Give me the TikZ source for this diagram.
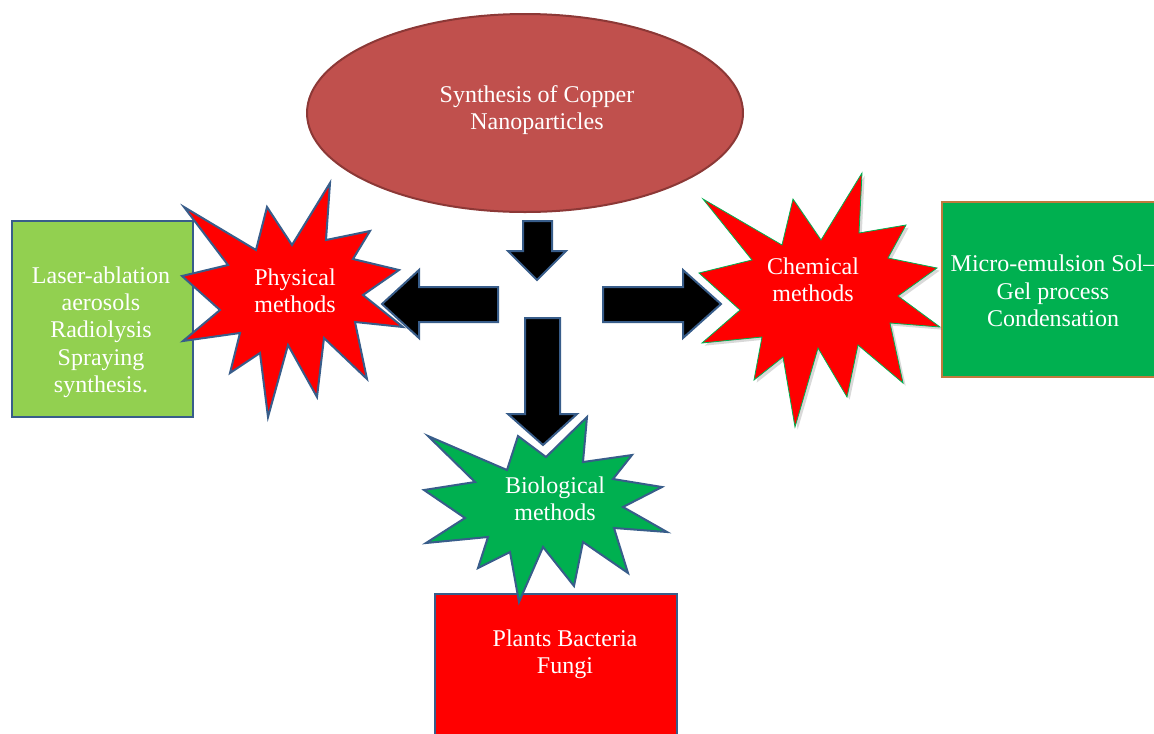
\documentclass[tikz,border=0pt]{standalone}
\usepackage{fontspec}
\setmainfont{Liberation Serif}
\usetikzlibrary{shapes.geometric,shadows}

\definecolor{capred}{HTML}{C0504D}
\definecolor{capline}{HTML}{8C3836}
\definecolor{edgeblue}{HTML}{385D8A}
\definecolor{leafgreen}{HTML}{92D050}
\definecolor{deepgreen}{HTML}{00B050}
\definecolor{copperline}{HTML}{C07A3E}

\begin{document}
\begin{tikzpicture}[x=0.75pt,y=-0.75pt,
	lbl/.style={text=white, font=\fontsize{18}{20.5}\selectfont, align=center, inner sep=0pt},
	burst/.style={draw=edgeblue, line width=1.5pt, line join=miter},
	blockarrow/.style={fill=black, draw=edgeblue, line width=1.5pt, line join=miter},
	panel/.style={draw=edgeblue, line width=1.5pt}]
			%%%%% START %%%%%
			\useasboundingbox (0,0) rectangle (1154,733);
			\clip (0,0) rectangle (1154,733);
			
			\node[ellipse, fill=capred, draw=capline, line width=1.5pt, minimum width=327pt, minimum height=148.5pt, inner sep=0pt] (synth) at (525,113) {};
			\node[lbl] (synthtxt) at (537,110) {Synthesis of Copper\\Nanoparticles};
			
			\draw[panel, fill=leafgreen] (11.5,221) rectangle (192.5,416.5);
			\node[lbl] (physlist) at (101,332) {Laser-ablation\\aerosols\\Radiolysis\\Spraying\\synthesis.};
			
			\draw[burst, fill=red] (330,183) -- (326,240) -- (370,231) -- (353,259) -- (399,270) -- (363,295) -- (403,327) -- (355,322) -- (367,379) -- (324,338) -- (317,397) -- (288,345) -- (268,417) -- (260,353) -- (230,373) -- (240,333) -- (183,341) -- (220,310) -- (182,276) -- (228,265) -- (184,207) -- (256,250) -- (267,207) -- (292,245) -- cycle;
			\node[lbl] (phys) at (295,291) {Physical\\methods};
			
			\draw[blockarrow] (523,221) -- (552,221) -- (552,251) -- (566,251) -- (537,280) -- (508,251) -- (523,251) -- cycle;
			\draw[blockarrow] (498,287) -- (419,287) -- (419,270) -- (382,304) -- (419,338) -- (419,322) -- (498,322) -- cycle;
			\draw[blockarrow] (603,287) -- (683,287) -- (683,270) -- (721,304) -- (683,338) -- (683,322) -- (603,322) -- cycle;
			\draw[blockarrow] (525,318) -- (560,318) -- (560,414) -- (577,414) -- (543,445) -- (508,414) -- (525,414) -- cycle;
			
			\draw[line width=1.5pt, draw=copperline, fill=deepgreen] (942,202) rectangle (1170,377);
			\node[lbl] (chemlist) at (1053,291) {Micro-emulsion Sol–\\Gel process\\Condensation};
			
			\draw[draw=deepgreen, line width=0.6pt, fill=red, drop shadow={shadow xshift=2pt, shadow yshift=-2pt, opacity=0.25, fill=black!60}] (862,173) -- (859,233) -- (906,225) -- (888,258) -- (937,268) -- (898,296) -- (940,327) -- (890,323) -- (903,383) -- (858,345) -- (847,397) -- (818,348) -- (795,427) -- (783,357) -- (754,380) -- (762,337) -- (702,343) -- (740,310) -- (699,273) -- (752,260) -- (703,199) -- (782,245) -- (793,199) -- (821,240) -- cycle;
			\node[lbl] (chem) at (813,280) {Chemical\\methods};
			
			\draw[panel, fill=red] (435,594) rectangle (677,760);
			\node[lbl] (biolist) at (565,654) {Plants Bacteria\\Fungi};
			
			\draw[burst, fill=deepgreen] (587,417) -- (583,462) -- (632,455) -- (613,479) -- (662,487) -- (623,507) -- (667,532) -- (614,528) -- (628,573) -- (583,542) -- (574,586) -- (543,547) -- (519,602) -- (510,552) -- (478,568) -- (488,537) -- (426,543) -- (465,518) -- (424,490) -- (475,482) -- (428,436) -- (507,470) -- (518,436) -- (546,457) -- cycle;
			\node[lbl] (bio) at (555,499) {Biological\\methods};
			
			%%%%% END %%%%%
\end{tikzpicture}
\end{document}
